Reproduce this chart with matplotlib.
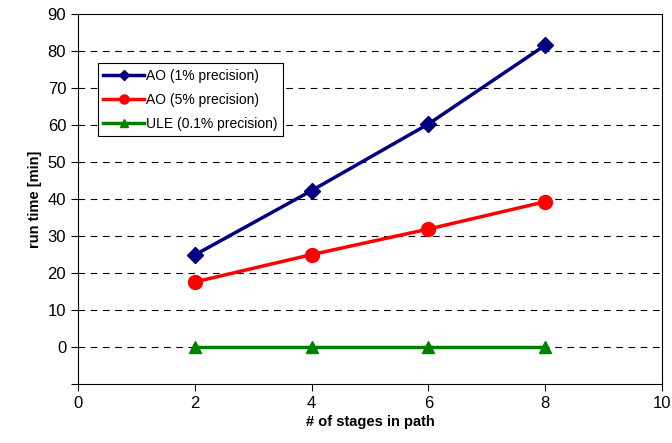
import matplotlib
matplotlib.use("Agg")
import matplotlib.pyplot as plt

plt.rcParams['font.family'] = ['Liberation Sans', 'DejaVu Sans']

# run time vs. number of stages
stages = [2, 4, 6, 8]
ao_1pct = [24.9, 42.3, 60.3, 81.6]
ao_5pct = [17.6, 25.0, 31.9, 39.3]
ule_01pct = [0, 0, 0, 0]

fig = plt.figure(figsize=(6.72, 4.43), dpi=100)
ax = fig.add_axes([0.116, 0.133, 0.869, 0.835])

for y in range(0, 90, 10):
    ax.axhline(y, color='black', linestyle=(0, (6, 5)), linewidth=0.8, zorder=0)

ax.plot(stages, ao_1pct, color='#000080', marker='D', markersize=8, linewidth=2.5,
        label='AO (1% precision)')
ax.plot(stages, ao_5pct, color='#FF0000', marker='o', markersize=10, linewidth=2.5,
        label='AO (5% precision)')
ax.plot(stages, ule_01pct, color='#008000', marker='^', markersize=9, linewidth=2.5,
        label='ULE (0.1% precision)')

ax.set_xlim(0, 10)
ax.set_ylim(-10, 90)
ax.set_xticks(range(0, 11, 2))
ax.set_yticks(range(-10, 91, 10))
ax.set_yticklabels([''] + [str(v) for v in range(0, 91, 10)])
ax.tick_params(direction='out', length=5, labelsize=12, width=0.8)
for s in ax.spines.values():
    s.set_linewidth(0.8)

ax.set_xlabel('# of stages in path', fontsize=10.5, fontweight='bold', labelpad=3)
ax.set_ylabel('run time [min]', fontsize=10.5, fontweight='bold', labelpad=4)

leg = ax.legend(loc='upper left', bbox_to_anchor=(0.034, 0.868), fontsize=10,
                frameon=True, fancybox=False, edgecolor='black', framealpha=1,
                handlelength=2.9, borderpad=0.4, labelspacing=0.72, handletextpad=0.2,
                markerscale=0.65, borderaxespad=0)
leg.get_frame().set_linewidth(0.8)

fig.savefig('out.png', dpi=100)
